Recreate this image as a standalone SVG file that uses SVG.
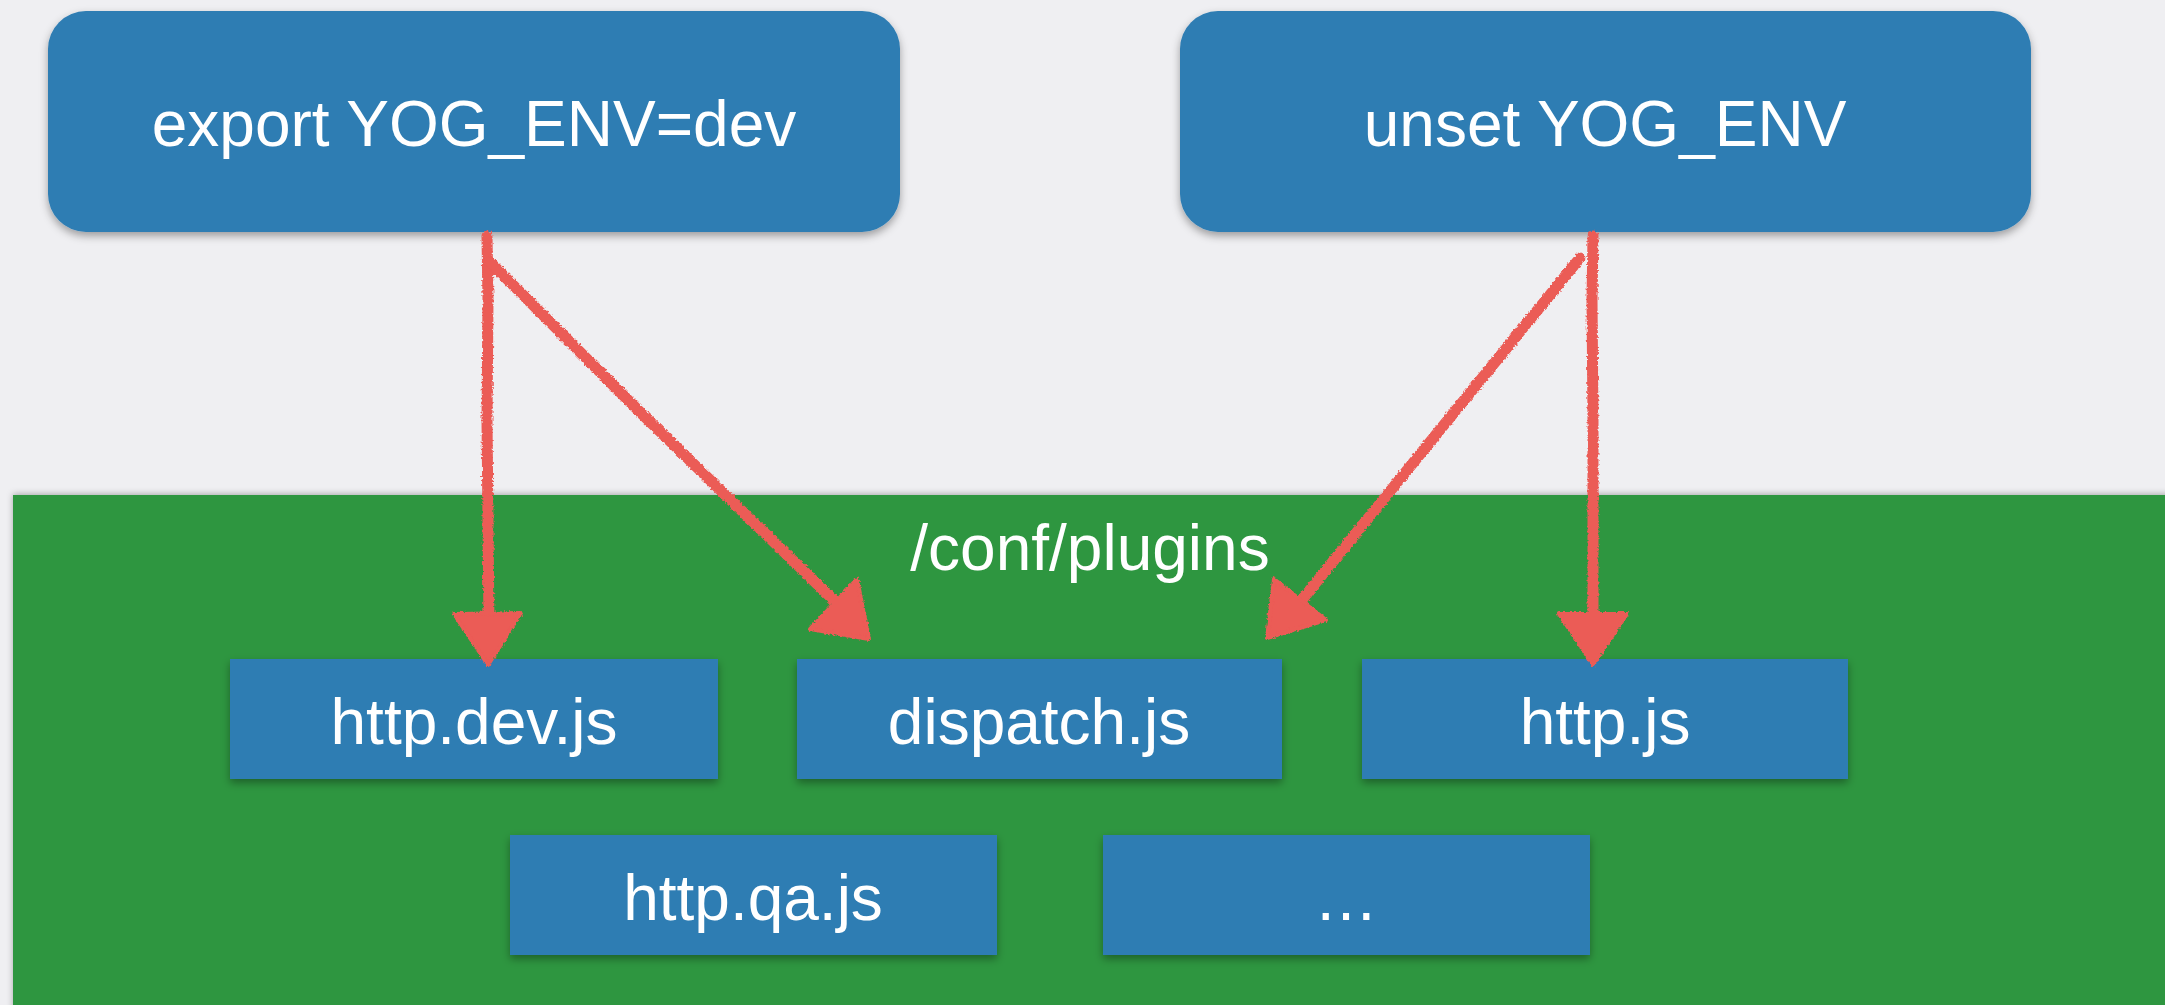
<svg xmlns="http://www.w3.org/2000/svg" width="2165" height="1005" viewBox="0 0 2165 1005">
  <style>
    .bg { fill: #efeff2; }
    .panel { fill: #2d963f; }
    .box { fill: #2e7db3; }
    .label { fill: #ffffff; font-family: "Helvetica Neue", "Liberation Sans", Arial, sans-serif; font-size: 64px; text-anchor: middle; }
    .wire { stroke: #eb5b56; stroke-width: 11; stroke-linecap: round; fill: none; }
    .head { fill: #eb5b56; stroke: #eb5b56; stroke-width: 4; stroke-linejoin: round; }
  </style>
  <defs>
    <filter id="shadow" x="-5%" y="-10%" width="110%" height="130%">
      <feDropShadow dx="0" dy="4" stdDeviation="4" flood-color="#000" flood-opacity="0.35"/>
    </filter>
    <filter id="panelShadow" x="-2%" y="-5%" width="104%" height="110%">
      <feDropShadow dx="0" dy="-1" stdDeviation="3" flood-color="#000" flood-opacity="0.3"/>
    </filter>
    <!-- crayon-like roughening for the hand-drawn arrows -->
    <filter id="crayon" x="-5%" y="-5%" width="110%" height="110%">
      <feTurbulence type="fractalNoise" baseFrequency="0.45" numOctaves="2" seed="3" result="noise"/>
      <feDisplacementMap in="SourceGraphic" in2="noise" scale="4" xChannelSelector="R" yChannelSelector="G"/>
    </filter>
  </defs>

  <rect class="bg" x="0" y="0" width="2165" height="1005"/>

  <!-- environment commands -->
  <g id="export-env">
    <rect class="box" x="48" y="11" width="852" height="221" rx="38" ry="38" filter="url(#shadow)"/>
    <text class="label" x="474" y="146">export YOG_ENV=dev</text>
  </g>
  <g id="unset-env">
    <rect class="box" x="1180" y="11" width="851" height="221" rx="38" ry="38" filter="url(#shadow)"/>
    <text class="label" x="1605" y="146">unset YOG_ENV</text>
  </g>

  <!-- plugin directory -->
  <g id="conf-plugins">
    <rect class="panel" x="13" y="495" width="2160" height="520" filter="url(#panelShadow)"/>
    <text class="label" x="1090" y="570">/conf/plugins</text>
  </g>

  <g id="http-dev">
    <rect class="box" x="230" y="659" width="488" height="120" filter="url(#shadow)"/>
    <text class="label" x="474" y="744">http.dev.js</text>
  </g>
  <g id="dispatch">
    <rect class="box" x="797" y="659" width="485" height="120" filter="url(#shadow)"/>
    <text class="label" x="1039" y="744">dispatch.js</text>
  </g>
  <g id="http">
    <rect class="box" x="1362" y="659" width="486" height="120" filter="url(#shadow)"/>
    <text class="label" x="1605" y="744">http.js</text>
  </g>
  <g id="http-qa">
    <rect class="box" x="510" y="835" width="487" height="120" filter="url(#shadow)"/>
    <text class="label" x="753" y="920">http.qa.js</text>
  </g>
  <g id="more">
    <rect class="box" x="1103" y="835" width="487" height="120" filter="url(#shadow)"/>
    <text class="label" x="1346" y="920">…</text>
  </g>

  <!-- connectors -->
  <g id="connectors" filter="url(#crayon)">
    <path class="wire" d="M487 236 L488 300 L487 420 L489 625"/>
    <polygon class="head" points="454,614 521,613 488,665"/>

    <path class="wire" d="M490 262 L640 412 L846 612"/>
    <polygon class="head" points="857,579 810,629 869,639"/>

    <path class="wire" d="M1580 258 L1430 442 L1292 612"/>
    <polygon class="head" points="1274,579 1326,620 1267,638"/>

    <path class="wire" d="M1593 236 L1592 300 L1593 420 L1593 625"/>
    <polygon class="head" points="1559,614 1627,614 1593,665"/>
  </g>
</svg>
